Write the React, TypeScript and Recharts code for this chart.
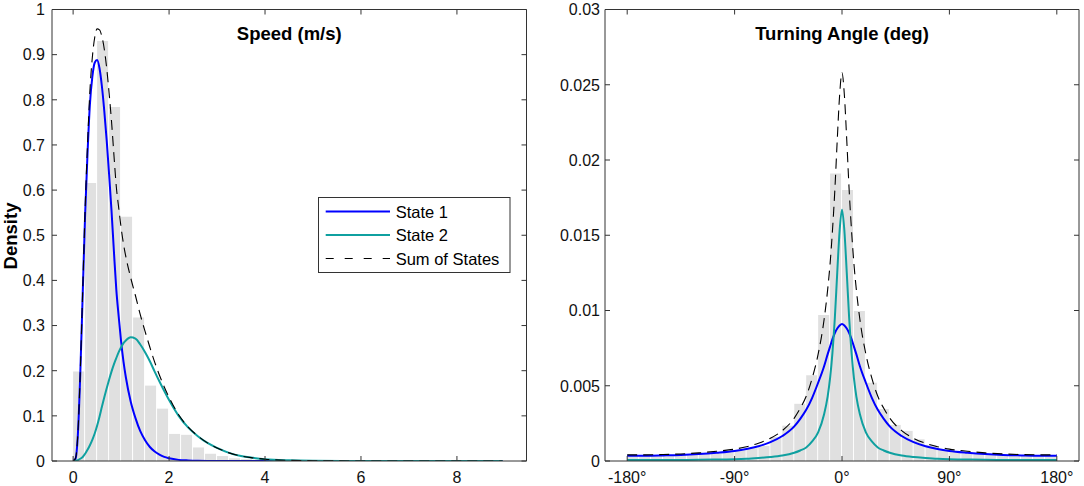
import React from "react";
import { ComposedChart, Bar, Line, XAxis, YAxis, ReferenceLine } from "recharts";

// speed histogram (bin width 0.25 m/s)
const speedBinCenters = [
  0.125, 0.375, 0.625, 0.875, 1.125, 1.375, 1.625, 1.875, 2.125, 2.375,
  2.625, 2.875, 3.125, 3.375, 3.625, 3.875, 4.125, 4.375, 4.625, 4.875,
];
const speedBinDensity = [
  0.198, 0.616, 0.93, 0.784, 0.541, 0.318, 0.167, 0.116, 0.06, 0.058,
  0.03, 0.016, 0.011, 0.006, 0.004, 0.003, 0.002, 0.0015, 0.001, 0.0008,
];

// fitted speed densities
const speedX = [
  0, 0.05, 0.1, 0.15, 0.2, 0.25, 0.3, 0.35, 0.4, 0.45, 0.5, 0.55, 0.6, 0.65,
  0.7, 0.75, 0.8, 0.85, 0.9, 0.95, 1.0, 1.05, 1.1, 1.2, 1.3, 1.4, 1.5, 1.6,
  1.7, 1.8, 1.9, 2.0, 2.2, 2.4, 2.6, 2.8, 3.0, 3.25, 3.5, 3.75, 4.0, 4.5, 5,
  6, 7, 8, 8.95,
];
const speedState1 = [
  0, 0.005, 0.06, 0.195, 0.37, 0.545, 0.68, 0.79, 0.85, 0.882, 0.888, 0.87,
  0.83, 0.775, 0.71, 0.635, 0.555, 0.465, 0.38, 0.32, 0.265, 0.22, 0.185,
  0.132, 0.095, 0.066, 0.046, 0.031, 0.021, 0.014, 0.009, 0.006, 0.0025,
  0.0012, 0.0005, 0.0002, 0.0001, 0, 0, 0, 0, 0, 0, 0, 0, 0, 0,
];
const speedState2 = [
  0, 0.0005, 0.002, 0.005, 0.009, 0.016, 0.025, 0.035, 0.047, 0.061, 0.078,
  0.098, 0.12, 0.141, 0.161, 0.18, 0.198, 0.214, 0.228, 0.241, 0.252, 0.261,
  0.267, 0.274, 0.271, 0.258, 0.241, 0.221, 0.198, 0.176, 0.155, 0.135, 0.1,
  0.074, 0.055, 0.04, 0.029, 0.018, 0.011, 0.007, 0.004, 0.0015, 0.0006,
  0.0001, 0, 0, 0,
];
const speedSum = [
  0, 0.006, 0.062, 0.2, 0.378, 0.558, 0.7, 0.82, 0.893, 0.938, 0.957, 0.955,
  0.94, 0.912, 0.87, 0.815, 0.753, 0.679, 0.608, 0.561, 0.517, 0.481, 0.452,
  0.406, 0.366, 0.324, 0.287, 0.252, 0.219, 0.19, 0.164, 0.141, 0.1025,
  0.075, 0.0555, 0.0402, 0.029, 0.018, 0.011, 0.007, 0.004, 0.0015, 0.0006,
  0.0001, 0, 0, 0,
];

// turning angle histogram (bin width 10 deg)
const angleBinCenters = [
  -175, -165, -155, -145, -135, -125, -115, -105, -95, -85, -75, -65, -55,
  -45, -35, -25, -15, -5, 5, 15, 25, 35, 45, 55, 65, 75, 85, 95, 105, 115,
  125, 135, 145, 155, 165, 175,
];
const angleBinDensity = [
  0.00038, 0.00035, 0.0004, 0.00038, 0.00042, 0.00045, 0.0005, 0.00055,
  0.00062, 0.0007, 0.00085, 0.001, 0.0016, 0.00235, 0.0038, 0.0057, 0.0097,
  0.0191, 0.018, 0.00996, 0.0052, 0.00345, 0.0024, 0.002, 0.00144, 0.00107,
  0.00078, 0.00062, 0.0005, 0.00045, 0.0004, 0.00038, 0.00036, 0.00035,
  0.00034, 0.00035,
];

// fitted turning angle densities
const angleX = [
  -180, -165, -150, -135, -120, -105, -90, -80, -70, -60, -50, -40, -35, -30,
  -25, -20, -15, -12, -10, -8, -6, -4, -2, 0, 2, 4, 6, 8, 10, 12, 15, 20, 25,
  30, 35, 40, 50, 60, 70, 80, 90, 105, 120, 135, 150, 165, 180,
];
const angleState1 = [
  0.00035, 0.00035, 0.00037, 0.0004, 0.00046, 0.00055, 0.00067, 0.0008,
  0.00098, 0.00125, 0.00166, 0.0023, 0.0028, 0.0034, 0.0042, 0.0052, 0.0063,
  0.0071, 0.0076, 0.0081, 0.0085, 0.0088, 0.009, 0.0091, 0.009, 0.0088,
  0.0085, 0.0081, 0.0076, 0.0071, 0.0063, 0.0052, 0.0042, 0.0034, 0.0028,
  0.0023, 0.00166, 0.00125, 0.00098, 0.0008, 0.00067, 0.00055, 0.00046,
  0.0004, 0.00037, 0.00035, 0.00035,
];
const angleState2 = [
  0.00006, 0.00006, 0.00006, 0.00007, 0.00008, 0.0001, 0.00012, 0.00015,
  0.0002, 0.00026, 0.00036, 0.00055, 0.0007, 0.0009, 0.0013, 0.0019, 0.0031,
  0.0043, 0.0055, 0.0072, 0.0095, 0.0125, 0.0153, 0.0167, 0.0153, 0.0125,
  0.0095, 0.0072, 0.0055, 0.0043, 0.0031, 0.0019, 0.0013, 0.0009, 0.0007,
  0.00055, 0.00036, 0.00026, 0.0002, 0.00015, 0.00012, 0.0001, 0.00008,
  0.00007, 0.00006, 0.00006, 0.00006,
];
const angleSum = [
  0.00041, 0.00041, 0.00043, 0.00047, 0.00054, 0.00065, 0.00079, 0.00095,
  0.00118, 0.00151, 0.00202, 0.00285, 0.0035, 0.0043, 0.0055, 0.0071, 0.0094,
  0.0114, 0.0131, 0.0153, 0.018, 0.0213, 0.0243, 0.0258, 0.0243, 0.0213,
  0.018, 0.0153, 0.0131, 0.0114, 0.0094, 0.0071, 0.0055, 0.0043, 0.0035,
  0.00285, 0.00202, 0.00151, 0.00118, 0.00095, 0.00079, 0.00065, 0.00054,
  0.00047, 0.00043, 0.00041, 0.00041,
];

const speedTicksX = [0, 2, 4, 6, 8];
const speedTicksY = [0, 0.1, 0.2, 0.3, 0.4, 0.5, 0.6, 0.7, 0.8, 0.9, 1];
const angleTicksX = [-180, -90, 0, 90, 180];
const angleTicksY = [0, 0.005, 0.01, 0.015, 0.02, 0.025, 0.03];

const legendNames = ["State 1", "State 2", "Sum of States"];

const BLUE = "#0000ff";
const TEAL = "#0fa0a0";
const BAR = "#e0e0e0";
const AXIS = "#333333";
const FONT = "'Liberation Sans', Arial, Helvetica, sans-serif";
const DASH = "10 6";

const PLOT_TOP = 9.5;
const PLOT_BOTTOM = 461;
const CHART_H = 486;

const speedHist = speedBinCenters.map((x, i) => ({ x, density: speedBinDensity[i] }));
const speedCurves = speedX.map((x, i) => ({
  x,
  s1: speedState1[i],
  s2: speedState2[i],
  sum: speedSum[i],
}));
const angleHist = angleBinCenters.map((x, i) => ({ x, density: angleBinDensity[i] }));
const angleCurves = angleX.map((x, i) => ({
  x,
  s1: angleState1[i],
  s2: angleState2[i],
  sum: angleSum[i],
}));

// histogram and curves live in two stacked charts with the same plot box,
// so the bar width comes from the bin spacing only
function Panel({
  width,
  yAxisWidth,
  marginRight,
  xDomain,
  yDomain,
  xTicks,
  yTicks,
  fmtX,
  fmtY,
  yLabelGap,
  hist,
  curves,
  title,
  children,
}: any) {
  const plotLeft = yAxisWidth;
  const plotRight = width - marginRight;
  const margin = { top: PLOT_TOP, right: marginRight, bottom: 0, left: 0 };

  const xTick = (p: any) => (
    <g>
      <line x1={p.x} x2={p.x} y1={PLOT_BOTTOM} y2={PLOT_BOTTOM - 5} stroke={AXIS} />
      <line x1={p.x} x2={p.x} y1={PLOT_TOP} y2={PLOT_TOP + 5} stroke={AXIS} />
      <text x={p.x} y={483} textAnchor="middle" fontSize={16} fontFamily={FONT} fill="#111">
        {fmtX(p.payload.value)}
      </text>
    </g>
  );

  const yTick = (p: any) => (
    <g>
      <line x1={plotLeft} x2={plotLeft + 5} y1={p.y} y2={p.y} stroke={AXIS} />
      <line x1={plotRight} x2={plotRight - 5} y1={p.y} y2={p.y} stroke={AXIS} />
      <text
        x={plotLeft - yLabelGap}
        y={p.y + 5.8}
        textAnchor="end"
        fontSize={16}
        fontFamily={FONT}
        fill="#111"
      >
        {fmtY(p.payload.value)}
      </text>
    </g>
  );

  const axes = (visible: boolean) => [
    <XAxis
      key="x"
      dataKey="x"
      type="number"
      domain={xDomain}
      ticks={xTicks}
      interval={0}
      allowDataOverflow
      height={CHART_H - PLOT_BOTTOM}
      axisLine={visible ? { stroke: AXIS } : false}
      tickLine={false}
      tickSize={0}
      tick={visible ? xTick : false}
    />,
    <YAxis
      key="y"
      type="number"
      domain={yDomain}
      ticks={yTicks}
      interval={0}
      allowDataOverflow
      width={yAxisWidth}
      axisLine={visible ? { stroke: AXIS } : false}
      tickLine={false}
      tickSize={0}
      tick={visible ? yTick : false}
    />,
  ];

  return (
    <div style={{ position: "relative", width, height: CHART_H }}>
      <div style={{ position: "absolute", left: 0, top: 0 }}>
        <ComposedChart width={width} height={CHART_H} data={hist} margin={margin}>
          {axes(false)}
          <Bar dataKey="density" fill={BAR} barSize={11} isAnimationActive={false} />
        </ComposedChart>
      </div>
      <div style={{ position: "absolute", left: 0, top: 0 }}>
        <ComposedChart width={width} height={CHART_H} data={curves} margin={margin}>
          {axes(true)}
          <Line
            dataKey="s1"
            type="monotone"
            stroke={BLUE}
            strokeWidth={2}
            dot={false}
            activeDot={false}
            isAnimationActive={false}
          />
          <Line
            dataKey="s2"
            type="monotone"
            stroke={TEAL}
            strokeWidth={2}
            dot={false}
            activeDot={false}
            isAnimationActive={false}
          />
          <Line
            dataKey="sum"
            type="monotone"
            stroke="#000"
            strokeWidth={1.1}
            strokeDasharray={DASH}
            dot={false}
            activeDot={false}
            isAnimationActive={false}
          />
          <ReferenceLine y={yDomain[1]} stroke={AXIS} />
          <ReferenceLine x={xDomain[1]} stroke={AXIS} />
          <text
            x={(plotLeft + plotRight) / 2}
            y={40}
            textAnchor="middle"
            fontSize={18.5}
            fontWeight="bold"
            fontFamily={FONT}
            fill="#000"
          >
            {title}
          </text>
          {children}
        </ComposedChart>
      </div>
    </div>
  );
}

function SpeedLegend() {
  const colors = [BLUE, TEAL, "#000"];
  const rows = [211.5, 235, 258.5];
  return (
    <g>
      <rect x={318.5} y={197.5} width={191.5} height={75} fill="#fff" stroke={AXIS} />
      {legendNames.map((name, i) => (
        <g key={name}>
          <line
            x1={325.7}
            x2={390}
            y1={rows[i]}
            y2={rows[i]}
            stroke={colors[i]}
            strokeWidth={i === 2 ? 1.1 : 2}
            strokeDasharray={i === 2 ? "8 11" : undefined}
          />
          <text x={395.7} y={rows[i] + 6} fontSize={16.5} fontFamily={FONT} fill="#000">
            {name}
          </text>
        </g>
      ))}
      <text
        x={17}
        y={236}
        transform="rotate(-90 17 236)"
        textAnchor="middle"
        fontSize={18.5}
        fontWeight="bold"
        fontFamily={FONT}
        fill="#000"
      >
        Density
      </text>
    </g>
  );
}

export default function App() {
  return (
    <div
      style={{
        position: "absolute",
        left: 0,
        top: 0,
        width: 1084,
        height: 486,
        background: "#fff",
        fontFamily: FONT,
      }}
    >
      <div style={{ position: "absolute", left: 0, top: 0 }}>
        <Panel
          width={540}
          yAxisWidth={52}
          marginRight={13.5}
          xDomain={[-0.44, 9.45]}
          yDomain={[0, 1]}
          xTicks={speedTicksX}
          yTicks={speedTicksY}
          fmtX={(v: number) => String(v)}
          fmtY={(v: number) => String(v)}
          yLabelGap={7}
          hist={speedHist}
          curves={speedCurves}
          title="Speed (m/s)"
        >
          <SpeedLegend />
        </Panel>
      </div>
      <div style={{ position: "absolute", left: 540, top: 0 }}>
        <Panel
          width={544}
          yAxisWidth={65}
          marginRight={5}
          xDomain={[-198.6, 198.6]}
          yDomain={[0, 0.03]}
          xTicks={angleTicksX}
          yTicks={angleTicksY}
          fmtX={(v: number) => `${v}°`}
          fmtY={(v: number) => String(v)}
          yLabelGap={5}
          hist={angleHist}
          curves={angleCurves}
          title="Turning Angle (deg)"
        />
      </div>
    </div>
  );
}
